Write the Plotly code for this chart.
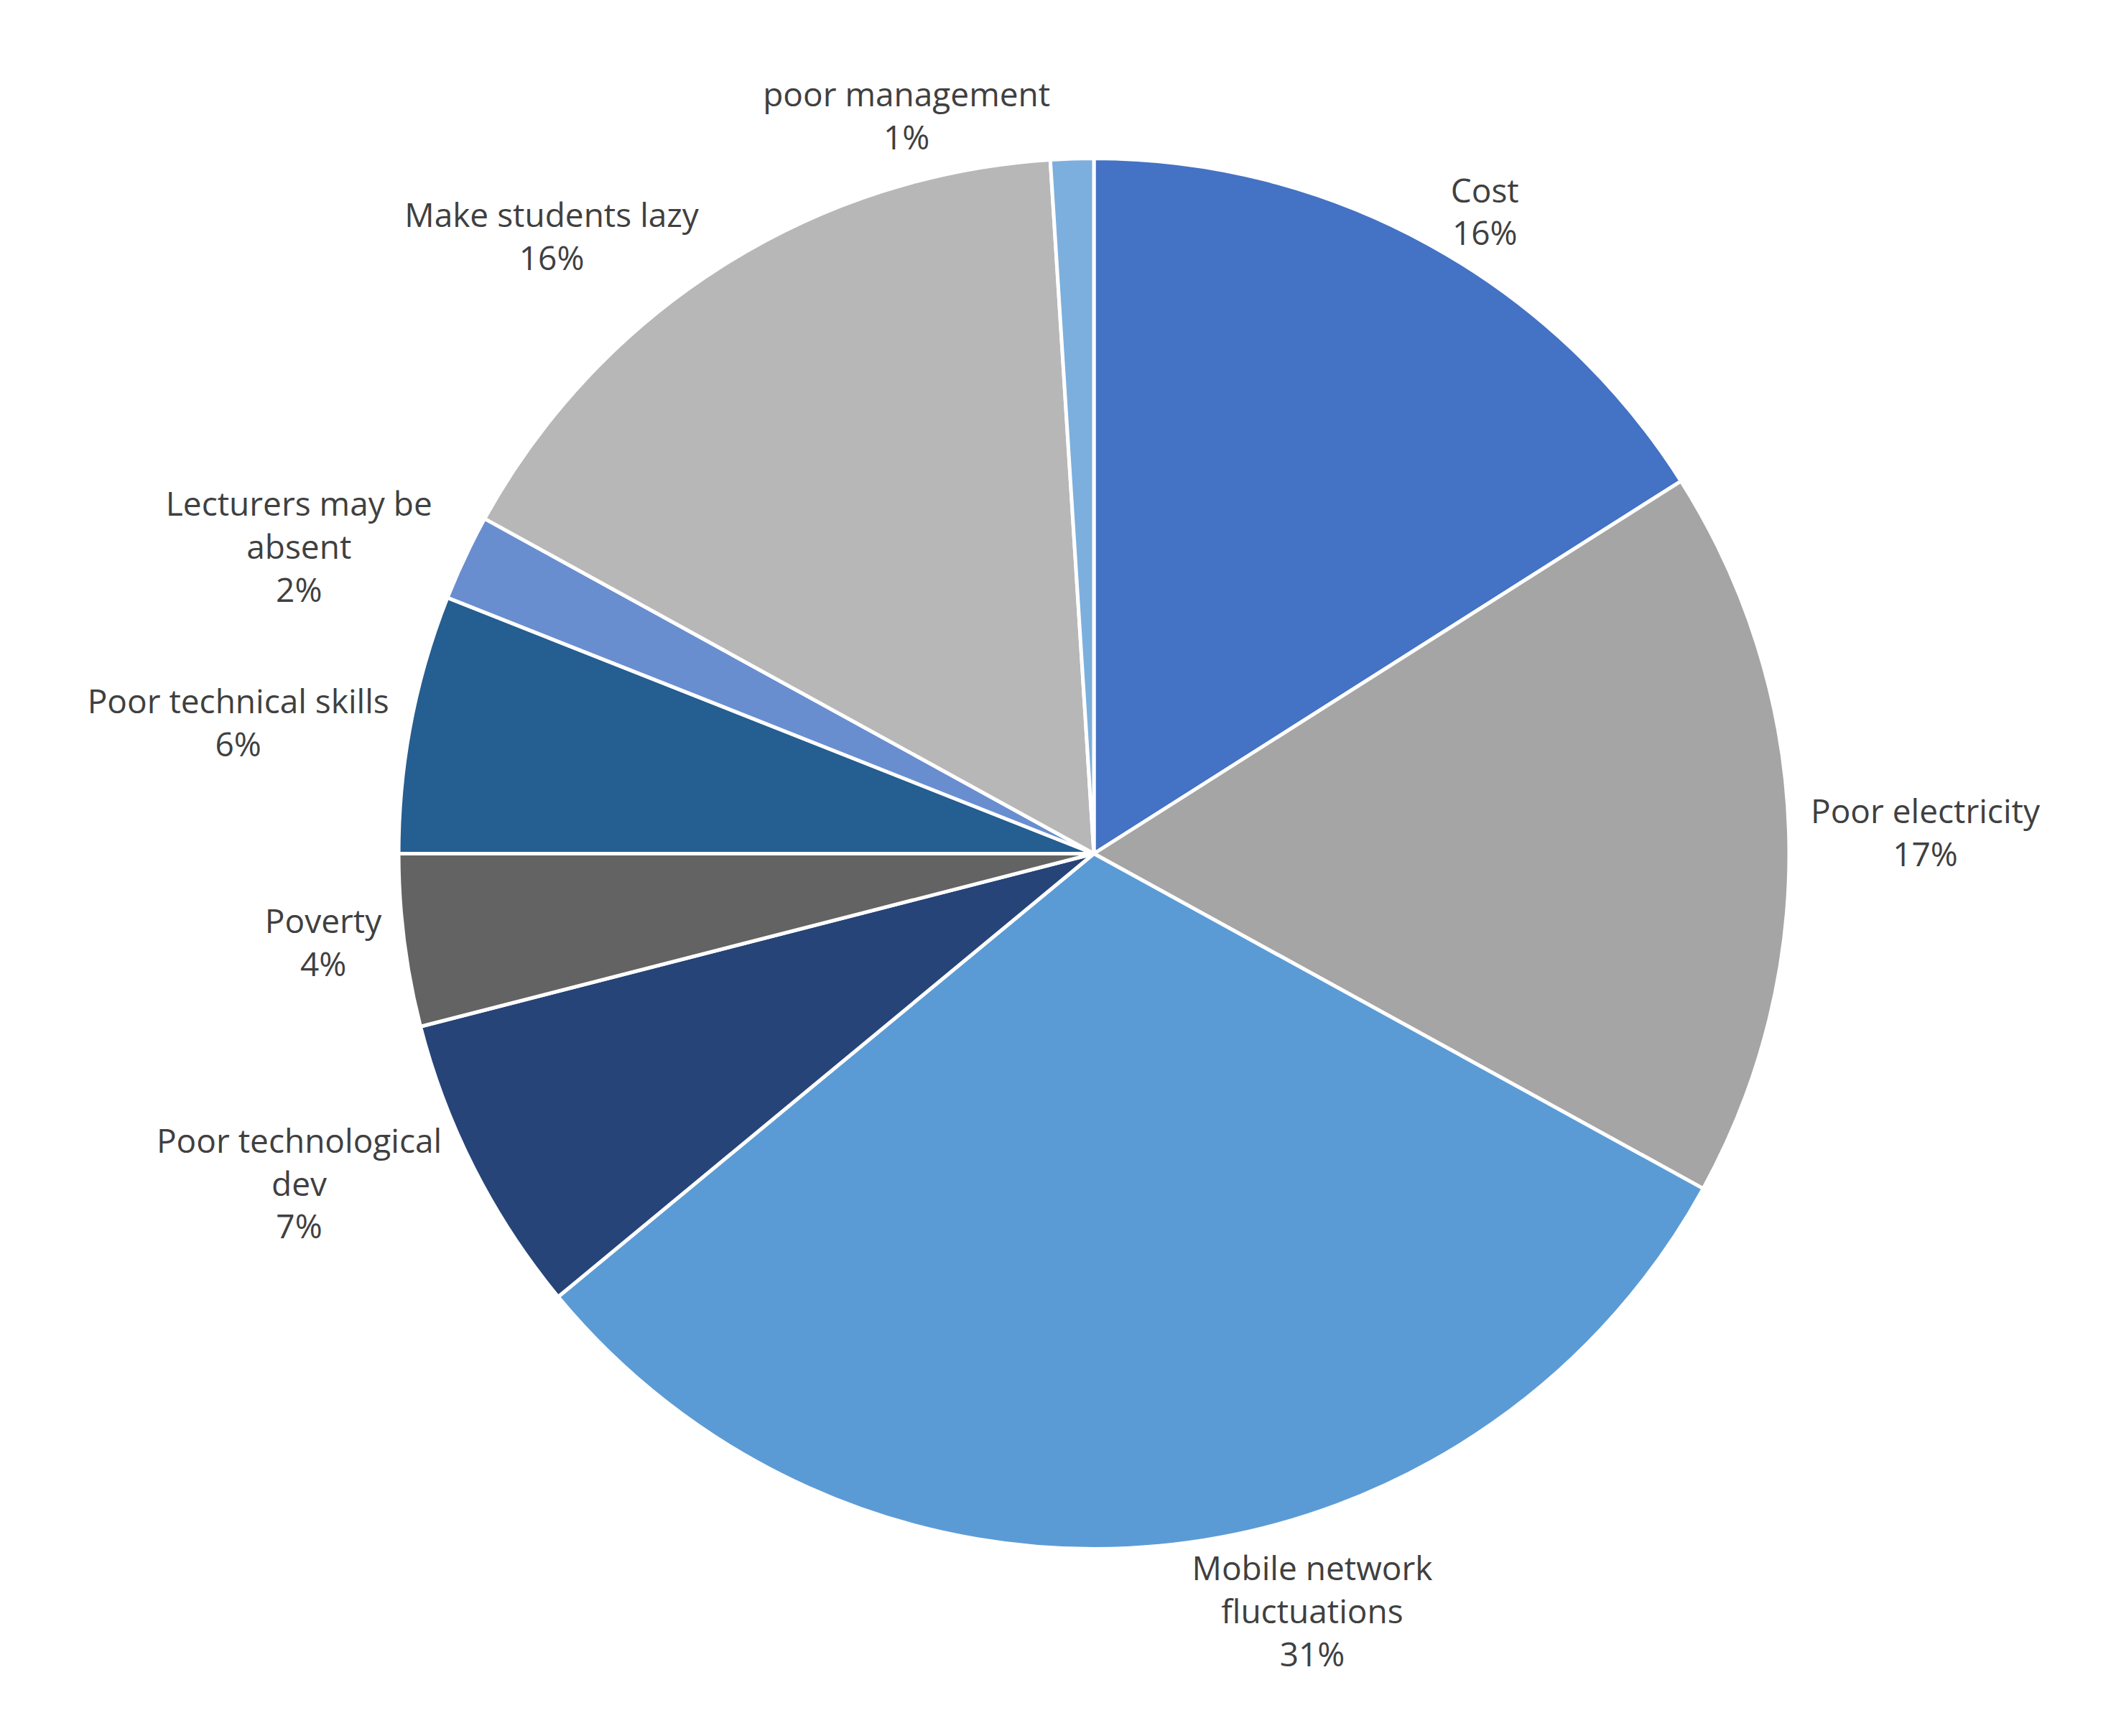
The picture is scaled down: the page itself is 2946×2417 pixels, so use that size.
import plotly.graph_objects as go

labels = ["Cost", "Poor electricity", "Mobile network<br>fluctuations", "Poor technological<br>dev",
          "Poverty", "Poor technical skills", "Lecturers may be<br>absent", "Make students lazy",
          "poor management"]
values = [16, 17, 31, 7, 4, 6, 2, 16, 1]
colors = ["#4472C4", "#A5A5A5", "#5B9BD5", "#264478", "#636363", "#255E91",
          "#698ED0", "#B7B7B7", "#7CAFDD"]

fig = go.Figure(go.Pie(
    labels=labels, values=values, sort=False, direction="clockwise", rotation=0,
    marker=dict(colors=colors, line=dict(color="white", width=5)),
    texttemplate="%{label}<br>%{percent:.0%}", textposition="outside",
    textfont=dict(size=46, color="#404040", family="Open Sans"),
    outsidetextfont=dict(size=46, color="#404040", family="Open Sans"),
    hoverinfo="label+percent",
))
fig.update_layout(
    width=2946, height=2417, showlegend=False,
    paper_bgcolor="white", plot_bgcolor="white",
    margin=dict(l=20, r=20, t=20, b=20),
)
fig.write_html("out.html")
